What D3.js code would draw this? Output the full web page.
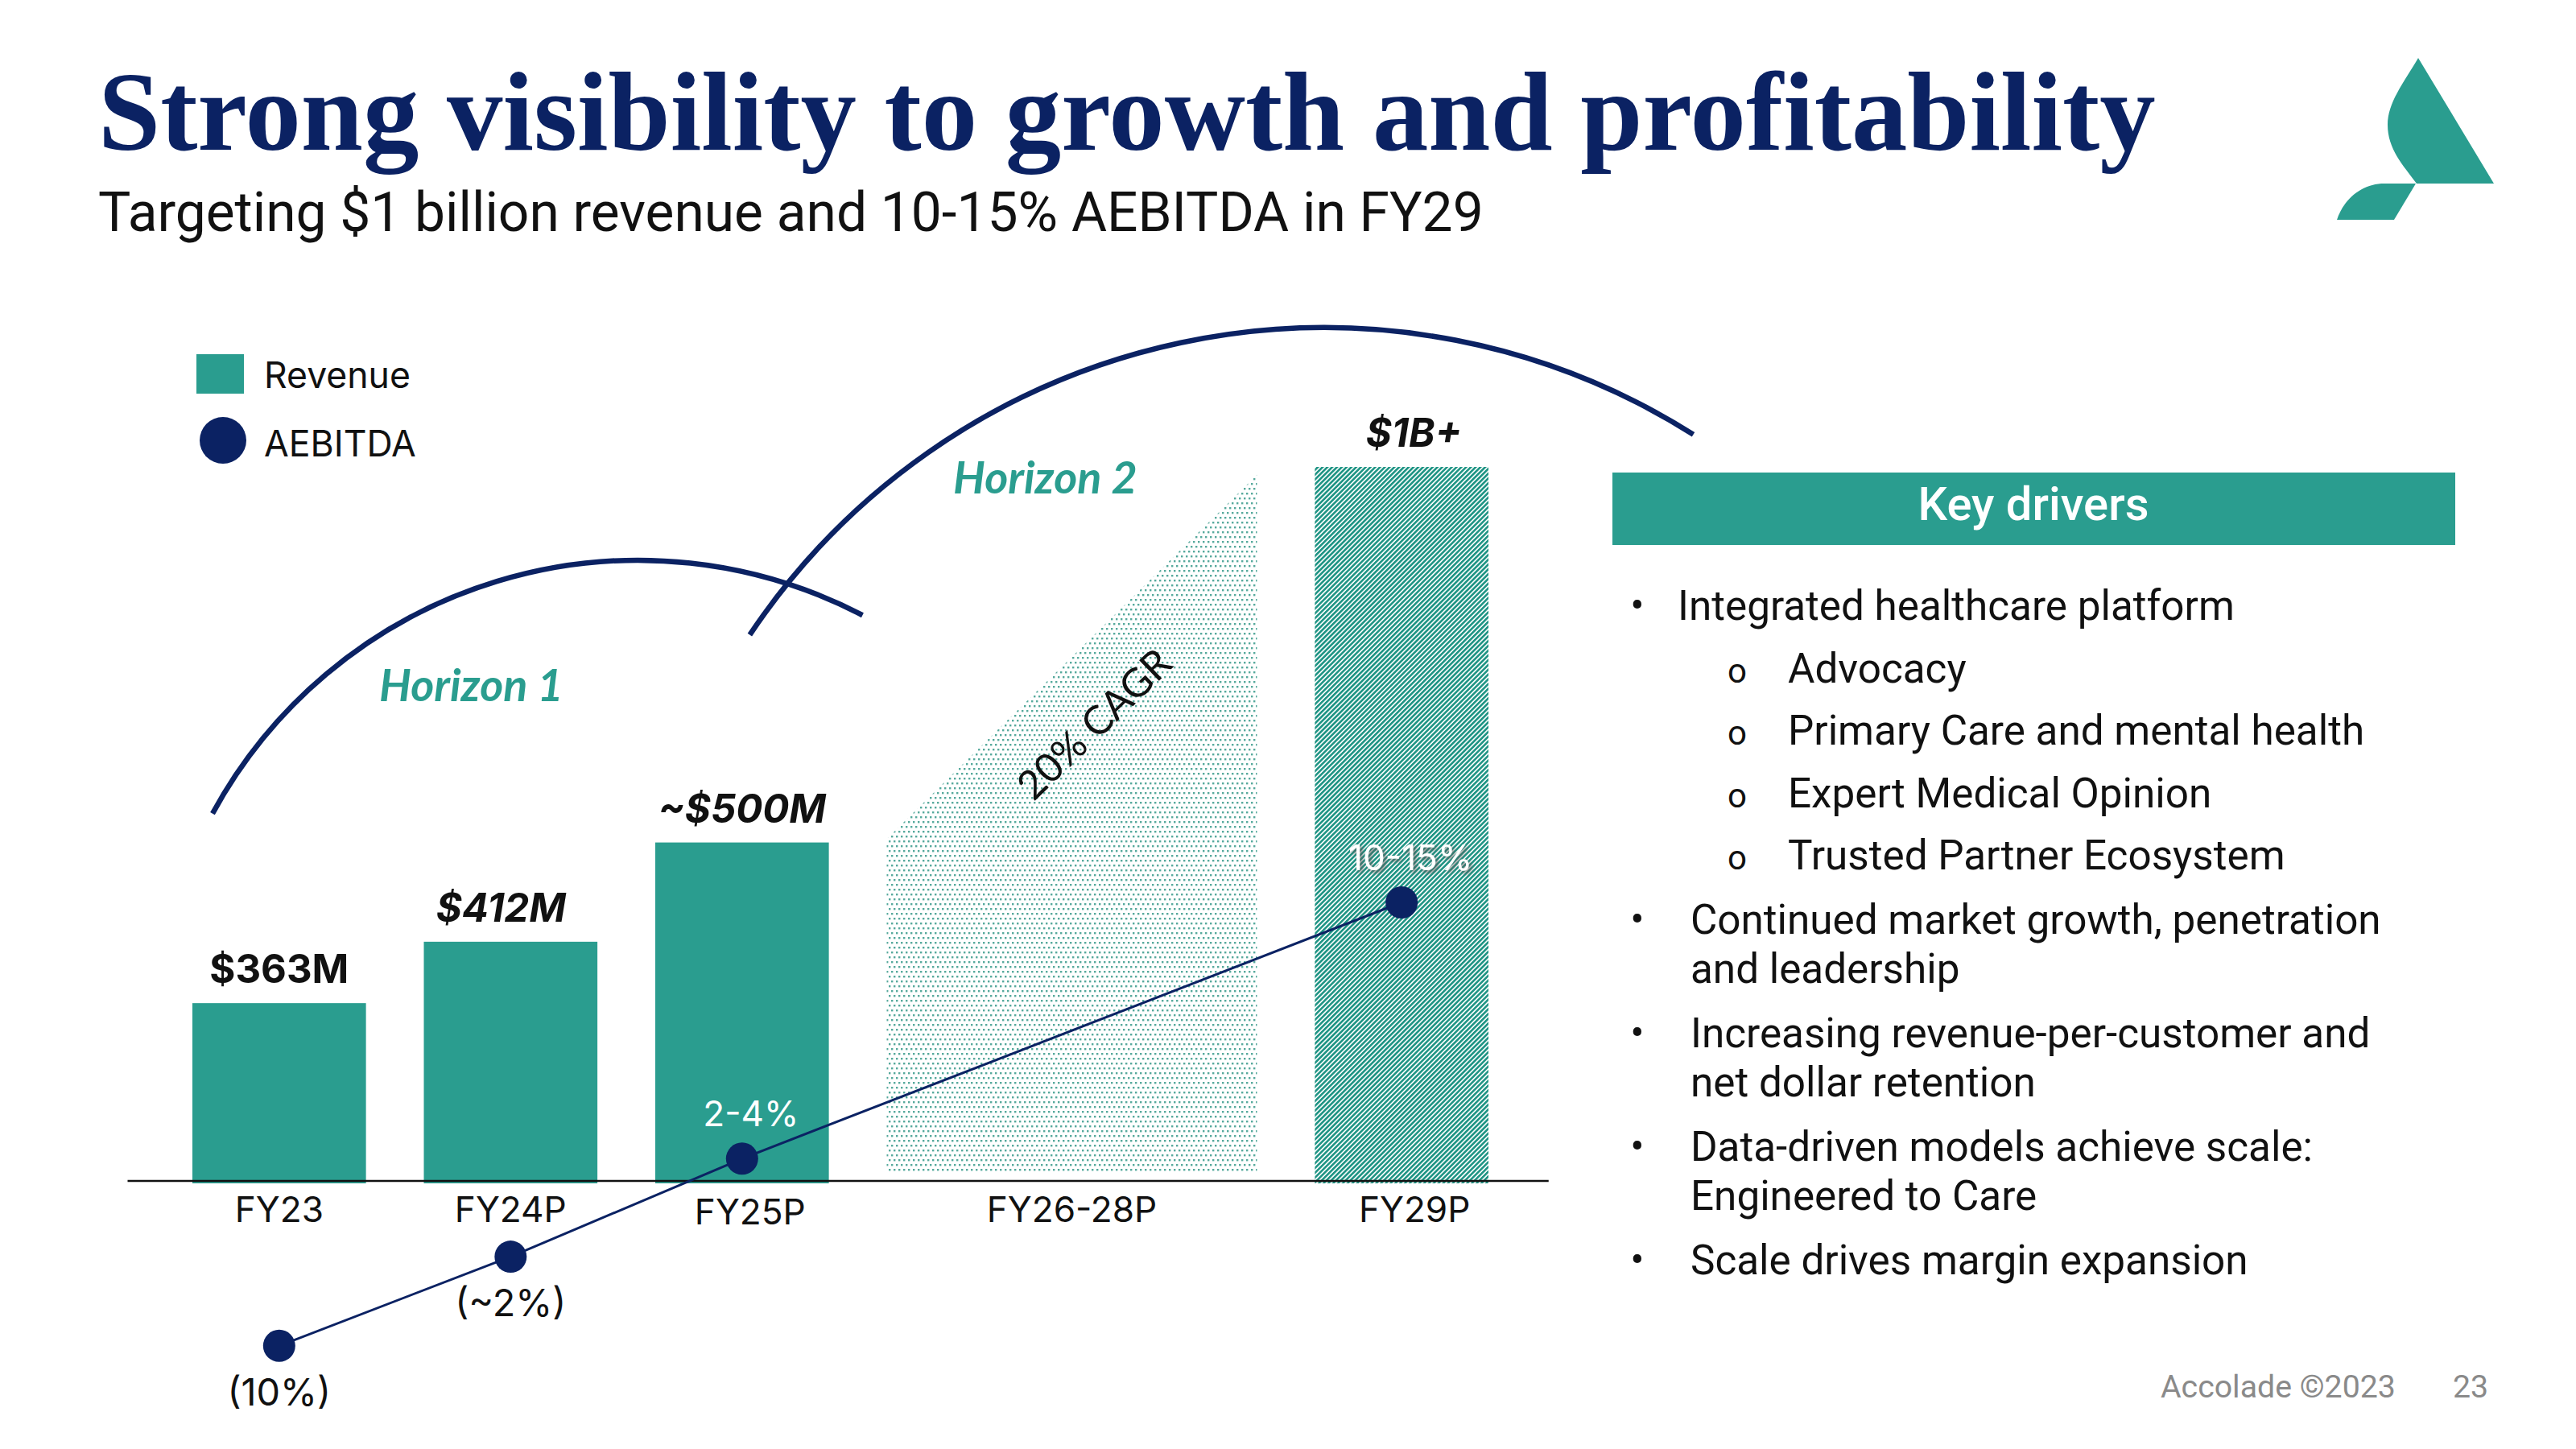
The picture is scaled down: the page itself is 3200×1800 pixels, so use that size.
<!DOCTYPE html>
<html><head><meta charset="utf-8">
<script src="https://cdn.jsdelivr.net/npm/d3@7"></script>
<style>html,body{margin:0;padding:0;background:#fff;} svg{display:block;}</style>
</head><body>
<script>
// ---------------- DATA ----------------
const categories = ["FY23", "FY24P", "FY25P", "FY26-28P", "FY29P"];
const revenueLabels = ["$363M", "$412M", "~$500M", null, "$1B+"];
const revenueActualM = [363, 412, 500, null, 1000];
// slide is schematic: bar heights as drawn, on a 0-1000 scale anchored at the $1B+ bar
const revenueDrawn = [249, 335, 474, null, 1000];
const cagrBand = [479, 989];            // FY26-28P growth wedge (start, end) as drawn
const cagrLabel = "20% CAGR";
const aebitdaLabels = ["(10%)", "(~2%)", "2-4%", null, "10-15%"];
const aebitdaDrawn = [-7.4, -3.4, 1.0, null, 12.5]; // schematic positions as drawn
const legendItems = ["Revenue", "AEBITDA"];
const horizonLabels = ["Horizon 1", "Horizon 2"];
const titleText = "Strong visibility to growth and profitability";
const subtitleText = "Targeting $1 billion revenue and 10-15% AEBITDA in FY29";
const driversTitle = "Key drivers";
const drivers = [
  {level: 0, lines: ["Integrated healthcare platform"]},
  {level: 1, lines: ["Advocacy"]},
  {level: 1, lines: ["Primary Care and mental health"]},
  {level: 1, lines: ["Expert Medical Opinion"]},
  {level: 1, lines: ["Trusted Partner Ecosystem"]},
  {level: 0, lines: ["Continued market growth, penetration", "and leadership"]},
  {level: 0, lines: ["Increasing revenue-per-customer and", "net dollar retention"]},
  {level: 0, lines: ["Data-driven models achieve scale:", "Engineered to Care"]},
  {level: 0, lines: ["Scale drives margin expansion"]}
];
const footerText = "Accolade \u00A92023";
const pageNumber = "23";

// ---------------- LAYOUT / STYLE ----------------
const W = 3200, H = 1800;
const NAVY = "#0b2263", TEAL = "#2a9d8f";
const SANS = "Roboto, 'Liberation Sans', sans-serif";
const LABEL = "Inter, 'Noto Sans', sans-serif";
const slotStart = [0, 1, 2, 3, 4.85];
const slotSpan = [0.75, 0.75, 0.75, 1.6, 0.75];

const svg = d3.select("body").append("svg").attr("width", W).attr("height", H)
  .attr("viewBox", `0 0 ${W} ${H}`);

function fit(sel, target) {
  const w = sel.node().getComputedTextLength();
  const fs = +sel.attr("font-size");
  const nf = fs * target / w;
  sel.attr("font-size", nf);
  return nf;
}

// defs: patterns
const defs = svg.append("defs");
const dots = defs.append("pattern").attr("id", "dots").attr("patternUnits", "userSpaceOnUse")
  .attr("width", 6).attr("height", 12);
dots.append("rect").attr("x", 0).attr("y", 0).attr("width", 2.4).attr("height", 2.4).attr("fill", "#56a99c");
dots.append("rect").attr("x", 3).attr("y", 6).attr("width", 2.4).attr("height", 2.4).attr("fill", "#56a99c");
const hatch = defs.append("pattern").attr("id", "hatch").attr("patternUnits", "userSpaceOnUse")
  .attr("width", 4.2).attr("height", 10).attr("patternTransform", "rotate(45)");
hatch.append("rect").attr("width", 4.2).attr("height", 10).attr("fill", "#ffffff");
hatch.append("rect").attr("width", 2.6).attr("height", 10).attr("fill", "#1f9484");

// ---------------- TITLE ----------------
const title = svg.append("text").attr("x", 122).attr("y", 186)
  .attr("font-family", "'Liberation Serif', 'DejaVu Serif', serif").attr("font-weight", 700)
  .attr("font-size", 120).attr("fill", NAVY).text(titleText);
fit(title, 2556);
const sub = svg.append("text").attr("x", 122).attr("y", 287)
  .attr("font-family", SANS).attr("font-size", 60).attr("fill", "#111").text(subtitleText);
fit(sub, 1721);

// logo
const logo = svg.append("g").attr("fill", TEAL);
logo.append("path").attr("d", "M3004,72 L3098,228 L3002,228 C2985,205 2966,185 2966,155 C2966,128 2985,104 3004,72 Z");
logo.append("path").attr("d", "M3001,228 L2974,273 L2903,273 C2912,246 2935,228 2962,228 Z");

// ---------------- LEGEND ----------------
svg.append("rect").attr("x", 244).attr("y", 440).attr("width", 59).attr("height", 49).attr("fill", TEAL);
svg.append("circle").attr("cx", 277).attr("cy", 547).attr("r", 29).attr("fill", NAVY);
const legT = svg.selectAll("text.leg").data(legendItems).join("text").attr("class", "leg")
  .attr("x", 328).attr("y", (d, i) => [482, 567][i])
  .attr("font-family", LABEL).attr("font-size", 46).attr("fill", "#111").text(d => d);
const legFs = fit(d3.select(legT.nodes()[0]), 182);
legT.attr("font-size", legFs);

// ---------------- SCALES ----------------
const xs = d3.scaleLinear().domain([0, 6]).range([239, 239 + 6 * 287.5]);
const yR = d3.scaleLinear().domain([0, 1000]).range([1467, 580]);
const yM = d3.scaleLinear().domain([0, 12.5]).range([1467, 1121]);
const idx = d3.range(categories.length);
const xL = i => xs(slotStart[i]);
const xRgt = i => xs(slotStart[i] + slotSpan[i]);
const xC = i => (xL(i) + xRgt(i)) / 2;

// FY26-28P growth wedge (dotted)
const wi = 3;
const wedge = [
  [xL(wi), yR(0) - 10], [xL(wi), yR(cagrBand[0])], [xRgt(wi), yR(cagrBand[1])], [xRgt(wi), yR(0) - 10]
];
svg.append("path").attr("d", d3.line()(wedge) + "Z").attr("fill", "url(#dots)");

// revenue bars
const barIdx = idx.filter(i => revenueDrawn[i] != null);
svg.selectAll("rect.bar").data(barIdx).join("rect").attr("class", "bar")
  .attr("x", i => xL(i)).attr("width", i => xRgt(i) - xL(i))
  .attr("y", i => yR(revenueDrawn[i])).attr("height", i => yR(0) - yR(revenueDrawn[i]) + 3)
  .attr("fill", i => i === 4 ? "url(#hatch)" : TEAL);

// axis line
svg.append("line").attr("x1", xs(-0.28)).attr("x2", xs(5.86)).attr("y1", yR(0)).attr("y2", yR(0))
  .attr("stroke", "#111").attr("stroke-width", 2.5);

// revenue value labels
const vl = svg.selectAll("text.val").data(barIdx).join("text").attr("class", "val")
  .attr("x", i => xC(i) + (i === 4 ? 15 : i === 1 ? -12 : 0)).attr("y", i => yR(revenueDrawn[i]) - 25)
  .attr("text-anchor", "middle").attr("font-family", LABEL).attr("font-weight", 700)
  .attr("font-style", i => i === 0 ? "normal" : "italic")
  .attr("font-size", 50).attr("fill", "#111").text(i => revenueLabels[i]);
const vFs = fit(d3.select(vl.nodes()[0]), 173);
vl.attr("font-size", vFs);

// category labels
const cl = svg.selectAll("text.cat").data(idx).join("text").attr("class", "cat")
  .attr("x", i => xC(i) + (i === 4 ? 16 : i === 2 ? 10 : 0)).attr("y", i => i === 2 ? 1521 : 1518)
  .attr("text-anchor", "middle").attr("font-family", LABEL).attr("font-size", 44)
  .attr("fill", "#111").text(i => categories[i]);
const cFs = fit(d3.select(cl.nodes()[0]), 104) * 1.06;
cl.attr("font-size", cFs);

// AEBITDA line + dots
const mIdx = idx.filter(i => aebitdaDrawn[i] != null);
svg.append("path").attr("d", d3.line().x(i => xC(i)).y(i => yM(aebitdaDrawn[i]))(mIdx))
  .attr("fill", "none").attr("stroke", NAVY).attr("stroke-width", 3);
svg.selectAll("circle.m").data(mIdx).join("circle").attr("class", "m")
  .attr("cx", i => xC(i)).attr("cy", i => yM(aebitdaDrawn[i])).attr("r", 20).attr("fill", NAVY);

// AEBITDA labels
const neg = mIdx.filter(i => aebitdaDrawn[i] < 0);
const pos = mIdx.filter(i => aebitdaDrawn[i] >= 0);
svg.selectAll("text.mneg").data(neg).join("text").attr("class", "mneg")
  .attr("x", i => xC(i)).attr("y", i => yM(aebitdaDrawn[i]) + 74)
  .attr("text-anchor", "middle").attr("font-family", LABEL).attr("font-size", cFs * 1.06)
  .attr("fill", "#111").text(i => aebitdaLabels[i]);
defs.append("filter").attr("id", "glow").attr("x", "-20%").attr("y", "-40%").attr("width", "140%").attr("height", "180%")
  .append("feDropShadow").attr("dx", 3).attr("dy", 3).attr("stdDeviation", 2.5)
  .attr("flood-color", "#555").attr("flood-opacity", 0.9);
svg.selectAll("text.mpos").data(pos).join("text").attr("class", "mpos")
  .attr("x", i => xC(i) + 11).attr("y", i => yM(aebitdaDrawn[i]) - 40)
  .attr("text-anchor", "middle").attr("font-family", LABEL).attr("font-size", cFs)
  .attr("filter", i => i === 4 ? "url(#glow)" : null)
  .attr("fill", "#ffffff").text(i => aebitdaLabels[i]);

// CAGR label
const cag = svg.append("text")
  .attr("transform", `translate(${(xL(wi) + xRgt(wi)) / 2 + 40},${yR((cagrBand[0] + cagrBand[1]) / 2) + 96}) rotate(-44)`)
  .attr("text-anchor", "middle").attr("font-family", "Lato, sans-serif").attr("font-size", 46)
  .attr("fill", "#111").text(cagrLabel);
fit(cag, 243);

// Horizon arcs
function arcPath(cx, cy, r, a0, a1) { const p = d3.path(); p.arc(cx, cy, r, a0, a1, false); return p.toString(); }
svg.append("path").attr("d", arcPath(793, 1298, 602, -2.644, -1.090))
  .attr("fill", "none").attr("stroke", NAVY).attr("stroke-width", 6.5);
svg.append("path").attr("d", arcPath(1645, 1265, 858, -2.553, -1.007))
  .attr("fill", "none").attr("stroke", NAVY).attr("stroke-width", 6.5);
const hz = svg.selectAll("text.hz").data(horizonLabels).join("text").attr("class", "hz")
  .attr("x", (d, i) => [471, 1184][i]).attr("y", (d, i) => [871, 613][i])
  .attr("font-family", "Lato, sans-serif").attr("font-weight", 700).attr("font-style", "italic")
  .attr("font-size", 50).attr("fill", TEAL).text(d => d);
const hFs = fit(d3.select(hz.nodes()[0]), 229);
hz.attr("font-size", hFs);

// ---------------- KEY DRIVERS ----------------
svg.append("rect").attr("x", 2003).attr("y", 587).attr("width", 1047).attr("height", 90).attr("fill", TEAL);
const kd = svg.append("text").attr("x", 2526).attr("y", 646).attr("text-anchor", "middle")
  .attr("font-family", SANS).attr("font-weight", 500).attr("font-size", 48).attr("fill", "#fff").text(driversTitle);
fit(kd, 287);

const dg = svg.append("g");
let yb = 770, bodyFs = 46;
const probe = dg.append("text").attr("font-family", SANS).attr("font-size", 46).text(drivers[0].lines[0]);
bodyFs = fit(probe, 706) * 0.98;
probe.remove();
const LH = Math.ceil(bodyFs * 1.19);
drivers.forEach((d, i) => {
  if (i > 0) yb += d.level === 1 ? 77.5 : 86.5 - (LH - 54.5);
  const tx = d.level === 1 ? 2221 : (i === 0 ? 2084 : 2100);
  if (d.level === 0) {
    dg.append("text").attr("x", 2034).attr("y", yb).attr("text-anchor", "middle")
      .attr("font-family", SANS).attr("font-size", bodyFs).attr("fill", "#111").text("\u2022");
  } else {
    dg.append("text").attr("x", 2158).attr("y", yb).attr("text-anchor", "middle")
      .attr("font-family", SANS).attr("font-size", bodyFs * 0.82).attr("fill", "#111").text("o");
  }
  const t = dg.append("text").attr("font-family", SANS).attr("font-size", bodyFs).attr("fill", "#111");
  d.lines.forEach((ln, k) => {
    t.append("tspan").attr("x", tx).attr("y", yb + k * LH).text(ln);
  });
  yb += (d.lines.length - 1) * LH;
});

// footer
const ft = svg.append("text").attr("x", 2684).attr("y", 1736).attr("font-family", SANS)
  .attr("font-size", 36).attr("fill", "#8a8a8a").text(footerText);
const fFs = fit(ft, 292);
svg.append("text").attr("x", 3047).attr("y", 1736).attr("font-family", SANS)
  .attr("font-size", fFs).attr("fill", "#8a8a8a").text(pageNumber);
</script>
</body></html>
